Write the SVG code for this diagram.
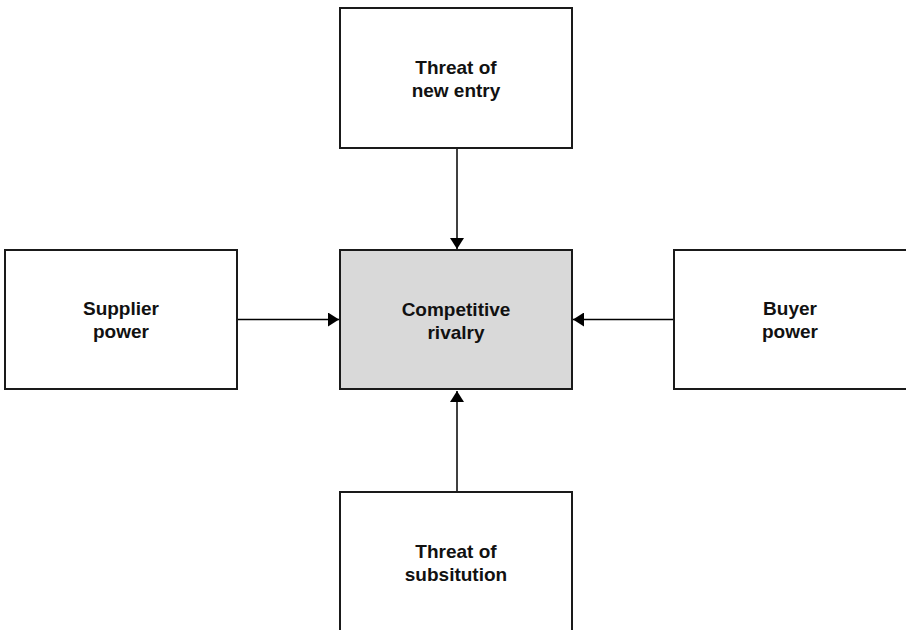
<svg xmlns="http://www.w3.org/2000/svg" width="906" height="630" viewBox="0 0 906 630">
  <style>
    .box { fill: #ffffff; stroke: #1a1a1a; stroke-width: 2; }
    .core { fill: #d9d9d9; }
    .lbl { font-family: "Liberation Sans", Arial, sans-serif; font-weight: bold; font-size: 19px; fill: #111111; text-anchor: middle; }
    .conn { stroke: #000000; stroke-width: 1.5; fill: none; marker-end: url(#arrow); }
  </style>
  <defs>
    <marker id="arrow" viewBox="0 0 11 14" refX="11" refY="7" markerWidth="11" markerHeight="14" markerUnits="userSpaceOnUse" orient="auto">
      <path d="M0,0 L11,7 L0,14 Z" fill="#000000"/>
    </marker>
  </defs>
  <rect width="906" height="630" fill="#ffffff"/>
  <g id="connectors">
    <line class="conn" x1="457" y1="148" x2="457" y2="249"/>
    <line class="conn" x1="237" y1="319.5" x2="339" y2="319.5"/>
    <line class="conn" x1="674" y1="319.5" x2="573" y2="319.5"/>
    <line class="conn" x1="457" y1="492" x2="457" y2="391"/>
  </g>
  <g id="new-entry">
    <rect class="box" x="340" y="8" width="232" height="140"/>
    <text class="lbl" x="456" y="73.5">Threat of</text>
    <text class="lbl" x="456" y="96.5">new entry</text>
  </g>
  <g id="rivalry">
    <rect class="box core" x="340" y="250" width="232" height="139"/>
    <text class="lbl" x="456" y="315.5">Competitive</text>
    <text class="lbl" x="456" y="338.5">rivalry</text>
  </g>
  <g id="supplier">
    <rect class="box" x="5" y="250" width="232" height="139"/>
    <text class="lbl" x="121" y="314.5">Supplier</text>
    <text class="lbl" x="121" y="337.5">power</text>
  </g>
  <g id="buyer">
    <rect class="box" x="674" y="250" width="240" height="139"/>
    <text class="lbl" x="790" y="314.5">Buyer</text>
    <text class="lbl" x="790" y="337.5">power</text>
  </g>
  <g id="substitution">
    <rect class="box" x="340" y="492" width="232" height="145"/>
    <text class="lbl" x="456" y="557.5">Threat of</text>
    <text class="lbl" x="456" y="580.5">subsitution</text>
  </g>
</svg>
